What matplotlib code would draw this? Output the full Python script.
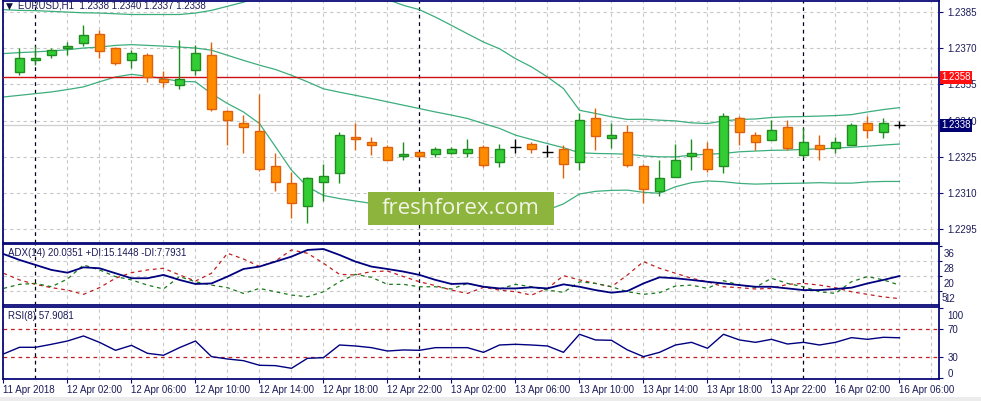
import matplotlib
matplotlib.use("Agg")
import matplotlib.pyplot as plt
from matplotlib.patches import Rectangle
from matplotlib.transforms import ScaledTranslation, blended_transform_factory

plt.rcParams['font.family'] = ['Liberation Sans', 'DejaVu Sans']

# hourly EURUSD bars, 11 Apr 23:00 .. 16 Apr 06:00
opens = [1.23602, 1.23651, 1.23674, 1.23701, 1.23722, 1.23760, 1.23702, 1.23651, 1.23674, 1.23571,
         1.23549, 1.23610, 1.23674, 1.23442, 1.23392, 1.23359, 1.23210, 1.23140, 1.23048, 1.23147,
         1.23181, 1.23332, 1.23311, 1.23290, 1.23252, 1.23270, 1.23260, 1.23267, 1.23267, 1.23290,
         1.23230, 1.23290, 1.23303, 1.23271, 1.23281, 1.23230, 1.23410, 1.23330, 1.23351, 1.23210,
         1.23110, 1.23168, 1.23252, 1.23281, 1.23210, 1.23409, 1.23340, 1.23321, 1.23372, 1.23259,
         1.23301, 1.23287, 1.23300, 1.23392, 1.23351, 1.23380]
highs = [1.23702, 1.23708, 1.23702, 1.23726, 1.23795, 1.23774, 1.23705, 1.23691, 1.23682, 1.23606,
         1.23733, 1.23712, 1.23725, 1.23445, 1.23425, 1.23512, 1.23268, 1.23188, 1.23168, 1.23219,
         1.23351, 1.23392, 1.23333, 1.23300, 1.23310, 1.23271, 1.23290, 1.23290, 1.23322, 1.23300,
         1.23303, 1.23322, 1.23312, 1.23301, 1.23301, 1.23430, 1.23453, 1.23392, 1.23381, 1.23220,
         1.23239, 1.23303, 1.23323, 1.23312, 1.23430, 1.23421, 1.23351, 1.23402, 1.23402, 1.23370,
         1.23340, 1.23333, 1.23392, 1.23421, 1.23409, 1.23400]
lows = [1.23589, 1.23629, 1.23661, 1.23674, 1.23709, 1.23660, 1.23632, 1.23617, 1.23560, 1.23540,
        1.23532, 1.23589, 1.23441, 1.23301, 1.23267, 1.23190, 1.23110, 1.22998, 1.22977, 1.23067,
        1.23140, 1.23278, 1.23257, 1.23236, 1.23239, 1.23250, 1.23250, 1.23260, 1.23250, 1.23209,
        1.23209, 1.23267, 1.23267, 1.23250, 1.23161, 1.23195, 1.23278, 1.23286, 1.23209, 1.23057,
        1.23088, 1.23165, 1.23195, 1.23188, 1.23181, 1.23299, 1.23278, 1.23319, 1.23278, 1.23250,
        1.23236, 1.23267, 1.23298, 1.23330, 1.23330, 1.23370]
closes = [1.23661, 1.23661, 1.23693, 1.23711, 1.23753, 1.23690, 1.23640, 1.23682, 1.23580, 1.23562,
          1.23571, 1.23682, 1.23449, 1.23401, 1.23372, 1.23198, 1.23147, 1.23057, 1.23161, 1.23169,
          1.23340, 1.23322, 1.23301, 1.23238, 1.23261, 1.23252, 1.23281, 1.23281, 1.23281, 1.23217,
          1.23281, 1.23290, 1.23281, 1.23271, 1.23219, 1.23401, 1.23337, 1.23340, 1.23217, 1.23118,
          1.23161, 1.23239, 1.23268, 1.23198, 1.23421, 1.23351, 1.23310, 1.23361, 1.23287, 1.23311,
          1.23281, 1.23311, 1.23380, 1.23361, 1.23392, 1.23380]

# indicators start one bar earlier (11 Apr 22:00)
bb_upper = [1.23860, 1.23857, 1.23856, 1.23853, 1.23850, 1.23847, 1.23846, 1.23843, 1.23840, 1.23840,
            1.23840, 1.23840, 1.23846, 1.23857, 1.23874, 1.23891, 1.23912, 1.23947, 1.23981, 1.23995,
            1.23981, 1.23964, 1.23947, 1.23926, 1.23902, 1.23878, 1.23860, 1.23829, 1.23795, 1.23760,
            1.23726, 1.23698, 1.23657, 1.23623, 1.23581, 1.23533, 1.23443, 1.23430, 1.23416, 1.23405,
            1.23406, 1.23402, 1.23399, 1.23391, 1.23388, 1.23399, 1.23405, 1.23407, 1.23413, 1.23416,
            1.23417, 1.23419, 1.23421, 1.23425, 1.23436, 1.23446, 1.23454]
bb_mid = [1.23678, 1.23682, 1.23685, 1.23689, 1.23694, 1.23701, 1.23705, 1.23712, 1.23715, 1.23712,
          1.23709, 1.23705, 1.23701, 1.23692, 1.23671, 1.23650, 1.23630, 1.23612, 1.23588, 1.23561,
          1.23532, 1.23518, 1.23505, 1.23492, 1.23478, 1.23464, 1.23450, 1.23436, 1.23423, 1.23409,
          1.23388, 1.23368, 1.23340, 1.23322, 1.23305, 1.23288, 1.23267, 1.23264, 1.23263, 1.23261,
          1.23254, 1.23250, 1.23250, 1.23257, 1.23261, 1.23264, 1.23271, 1.23274, 1.23277, 1.23278,
          1.23281, 1.23283, 1.23286, 1.23290, 1.23294, 1.23299, 1.23303]
bb_lower = [1.23498, 1.23505, 1.23512, 1.23519, 1.23529, 1.23540, 1.23561, 1.23581, 1.23592, 1.23584,
            1.23574, 1.23563, 1.23561, 1.23512, 1.23471, 1.23436, 1.23388, 1.23292, 1.23195, 1.23126,
            1.23090, 1.23077, 1.23067, 1.23057, 1.23054, 1.23050, 1.23044, 1.23044, 1.23049, 1.23054,
            1.23049, 1.23038, 1.23027, 1.23023, 1.23030, 1.23055, 1.23096, 1.23107, 1.23111, 1.23112,
            1.23103, 1.23099, 1.23126, 1.23143, 1.23150, 1.23147, 1.23140, 1.23137, 1.23139, 1.23140,
            1.23141, 1.23143, 1.23141, 1.23141, 1.23146, 1.23148, 1.23148]

adx = [31.9, 28.7, 26.0, 23.3, 21.8, 24.7, 24.2, 21.5, 18.8, 18.8, 20.6, 17.9, 15.7, 16.0, 19.7,
       23.8, 25.1, 27.8, 30.5, 34.1, 34.6, 31.4, 27.8, 25.1, 23.8, 22.4, 20.6, 17.9, 15.7, 16.0,
       14.2, 13.3, 13.3, 13.9, 13.3, 15.5, 14.2, 12.4, 11.0, 11.9, 16.0, 19.3, 18.8, 17.9, 16.9,
       16.0, 15.1, 14.2, 14.2, 13.3, 12.4, 12.4, 13.0, 13.7, 16.0, 17.9, 20.0]
plus_di = [13.3, 15.5, 16.0, 14.2, 18.4, 26.0, 23.3, 19.7, 17.9, 15.1, 13.0, 19.7, 16.9, 15.1, 13.7,
           10.6, 13.3, 11.5, 9.7, 8.8, 11.5, 16.9, 20.9, 19.3, 15.5, 15.5, 14.2, 14.2, 13.0, 16.0,
           14.2, 13.0, 15.5, 14.2, 12.4, 11.2, 16.9, 16.0, 14.2, 11.5, 10.1, 11.0, 14.6, 15.1, 13.3,
           17.5, 15.1, 13.9, 18.8, 16.0, 14.2, 11.5, 10.6, 16.9, 19.7, 17.9, 15.1]
minus_di = [21.5, 17.9, 15.5, 13.7, 12.4, 10.1, 13.7, 18.8, 21.8, 23.3, 24.2, 20.6, 17.3, 21.5, 32.3,
            29.2, 25.1, 28.1, 34.1, 32.3, 26.9, 20.9, 20.6, 22.4, 22.7, 19.7, 16.9, 14.8, 12.4, 10.6,
            13.9, 12.4, 11.5, 9.7, 13.3, 20.2, 17.9, 16.0, 14.2, 20.6, 27.8, 24.2, 21.5, 18.8, 16.9,
            14.2, 13.7, 13.0, 13.3, 15.5, 16.0, 15.1, 13.7, 11.5, 10.1, 8.7, 7.8]
rsi = [34.8, 44.3, 44.3, 48.6, 53.3, 60.5, 51.4, 40.0, 47.1, 35.7, 32.9, 43.8, 53.3, 31.0, 27.6,
       25.2, 18.6, 18.1, 14.3, 28.6, 29.5, 47.6, 46.2, 43.8, 39.0, 40.5, 40.0, 43.8, 43.8, 43.8,
       37.1, 47.6, 48.6, 47.6, 46.2, 37.1, 62.9, 54.8, 54.3, 40.5, 31.0, 37.1, 47.6, 51.4, 42.9,
       62.9, 54.8, 51.4, 55.7, 49.0, 51.4, 47.6, 51.4, 58.1, 55.7, 58.6, 57.9]

time_labels = ['11 Apr 2018', '12 Apr 02:00', '12 Apr 06:00', '12 Apr 10:00', '12 Apr 14:00',
               '12 Apr 18:00', '12 Apr 22:00', '13 Apr 02:00', '13 Apr 06:00', '13 Apr 10:00',
               '13 Apr 14:00', '13 Apr 18:00', '13 Apr 22:00', '16 Apr 02:00', '16 Apr 06:00']
price_ticks = [1.2385, 1.2370, 1.2355, 1.2340, 1.2325, 1.2310, 1.2295]
level_price = 1.2358
last_price = 1.2338

W, H = 981, 401
navy = '#0a0a78'
txt = '#1c1c5a'
grid_c = '#c8c8c8'
bb_c = '#3cae7c'

fig = plt.figure(figsize=(W / 100, H / 100), dpi=100)
fig.patch.set_facecolor('white')


def px_axes(x0, y0, x1, y1):
    return fig.add_axes([x0 / W, 1 - y1 / H, (x1 - x0) / W, (y1 - y0) / H])


ax = px_axes(3, 0.5, 939, 242.5)
ax_adx = px_axes(3, 244, 939, 305)
ax_rsi = px_axes(3, 307, 939, 379)

n = len(opens)
xs = list(range(n))
xi = list(range(-1, n))
xlim = (-1.03, 57.47)

for a in (ax, ax_adx, ax_rsi):
    a.set_xlim(*xlim)
    for s in a.spines.values():
        s.set_color(navy)
        s.set_linewidth(1.3)
    a.yaxis.tick_right()
    a.tick_params(axis='y', direction='out', length=3, width=0.8, colors=navy,
                  labelcolor=txt, labelsize=7, pad=3)
    a.tick_params(axis='x', bottom=False, labelbottom=False)
    for k in range(-1, 58, 2):
        if k in (1, 25, 49):
            a.axvline(k, color='#000020', lw=0.9, ls=(0, (3, 3)), zorder=1)
        else:
            a.axvline(k, color=grid_c, lw=0.8, ls=(0, (3, 3)), zorder=0)

# main price panel
ax.set_ylim(1.22895, 1.23898)
ax.set_yticks(price_ticks)
ax.set_yticklabels(['%.4f' % p for p in price_ticks])
for p in price_ticks:
    ax.axhline(p, color=grid_c, lw=0.8, ls=(0, (3, 3)), zorder=0)
ax.axhline(last_price, color='#cfcfcf', lw=0.9, zorder=0.5)
ax.axhline(level_price, color='#d01010', lw=1.0, zorder=3)

ax.plot(xi, bb_upper, color=bb_c, lw=0.9, zorder=2)
ax.plot(xi, bb_mid, color=bb_c, lw=0.9, zorder=2)
ax.plot(xi, bb_lower, color=bb_c, lw=0.9, zorder=2)

for k in xs:
    o, h, l, c = opens[k], highs[k], lows[k], closes[k]
    if o == c:
        ax.vlines(k, l, h, color='black', lw=1.0, zorder=4)
        ax.hlines(o, k - 0.35, k + 0.35, color='black', lw=1.0, zorder=4)
        continue
    if c > o:
        face, edge = '#32cd32', '#1e8c1e'
    else:
        face, edge = '#ff8c00', '#e0600a'
    ax.vlines(k, l, h, color=edge, lw=1.0, zorder=3)
    ax.bar(k, abs(c - o), bottom=min(o, c), width=0.62, color=face, edgecolor=edge,
           linewidth=1.0, zorder=4)

tr = blended_transform_factory(ax.transAxes, ax.transData)
ax.text(1.0025, level_price, '%.4f' % level_price, transform=tr, ha='left', va='center',
        fontsize=7, color='white', zorder=10, clip_on=False,
        bbox=dict(boxstyle='square,pad=0.15', facecolor='#ff1010', edgecolor='none'))
ax.text(1.0025, last_price, '%.4f' % last_price, transform=tr, ha='left', va='center',
        fontsize=7, color='white', zorder=10, clip_on=False,
        bbox=dict(boxstyle='square,pad=0.15', facecolor='#000070', edgecolor='none'))

fig.text(5.5 / W, 1 - 6 / H, '\u25bc', fontsize=6.5, color='#101040', va='center', ha='left',
         family=['DejaVu Sans'])
fig.text(18 / W, 1 - 6 / H, 'EURUSD,H1  %.4f %.4f %.4f %.4f' % (opens[-1], highs[-1], lows[-1], closes[-1]),
         fontsize=7, color=txt, va='center', ha='left')

# ADX panel
ax_adx.set_ylim(4.34, 37.31)
ax_adx.set_yticks([36, 28, 20, 12])
ax_adx.tick_params(axis='y', length=2, pad=1.5)
for lv in (28, 20, 12):
    ax_adx.axhline(lv, color=grid_c, lw=0.8, ls=(0, (3, 3)), zorder=0)
ax_adx.plot(xi, minus_di, color='#c02020', lw=0.9, ls=(0, (3, 3)), zorder=2)
ax_adx.plot(xi, plus_di, color='#1a7a1a', lw=0.9, ls=(0, (3, 3)), zorder=2)
ax_adx.plot(xi, adx, color='#000080', lw=1.3, zorder=3)
shift = ScaledTranslation(0, -7 / 100, fig.dpi_scale_trans)
for lab in ax_adx.get_yticklabels():
    lab.set_transform(lab.get_transform() + shift)
# the minimum label of the scale sits on top of "12"
ax_adx.text(1.0, 12, '5', transform=blended_transform_factory(ax_adx.transAxes, ax_adx.transData)
            + ScaledTranslation(2.5 / 100, -7 / 100, fig.dpi_scale_trans),
            fontsize=7, color=txt, ha='left', va='center', clip_on=False)
ax_adx.text(0.005, 0.86, 'ADX(14) %.4f +DI:%.4f -DI:%.4f' % (20.0351, 15.1448, 7.7931),
            transform=ax_adx.transAxes, fontsize=7, color=txt, ha='left', va='center')

# RSI panel
ax_rsi.set_ylim(-1, 101.9)
ax_rsi.set_yticks([100, 70, 30, 0])
for lv in (70, 30):
    ax_rsi.axhline(lv, color='#c02020', lw=0.9, ls=(0, (3, 3)), zorder=1)
ax_rsi.plot(xi, rsi, color='#000080', lw=1.0, zorder=3)
labs = ax_rsi.get_yticklabels()
labs[0].set_transform(labs[0].get_transform() + ScaledTranslation(0, -6.5 / 100, fig.dpi_scale_trans))
labs[3].set_transform(labs[3].get_transform() + ScaledTranslation(0, 5.5 / 100, fig.dpi_scale_trans))
ax_rsi.text(0.005, 0.88, 'RSI(8) %.4f' % 57.9081, transform=ax_rsi.transAxes, fontsize=7,
            color=txt, ha='left', va='center')

label_pos = [-1 + 4 * i for i in range(len(time_labels))]
ax_rsi.set_xticks(label_pos)
ax_rsi.set_xticklabels(time_labels, ha='left')
ax_rsi.tick_params(axis='x', bottom=True, labelbottom=True, direction='out', length=3,
                   width=0.8, colors=navy, labelcolor=txt, labelsize=7, pad=1.5)

# watermark
fig.add_artist(Rectangle((368 / W, 1 - 225 / H), 186 / W, 33 / H, transform=fig.transFigure,
                         facecolor='#8db43c', edgecolor='none', zorder=20))
fig.text(461 / W, 1 - 209 / H, 'freshforex.com', fontsize=16, color='#f2f4e6',
         ha='center', va='center', family=['Open Sans', 'DejaVu Sans'], zorder=21)

# grey strip at the bottom
fig.add_artist(Rectangle((0, 0), 1, 4 / H, transform=fig.transFigure, facecolor='#ececec',
                         edgecolor='none', zorder=0))

fig.savefig('out.png', dpi=100)
